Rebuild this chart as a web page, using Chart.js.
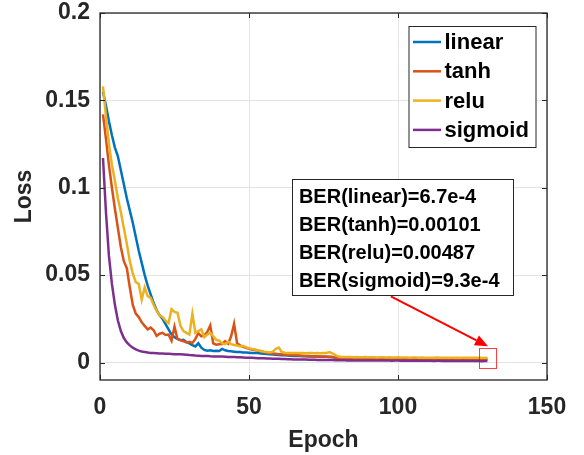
<!DOCTYPE html>
<html>
<head>
<meta charset="utf-8">
<script src="https://cdn.jsdelivr.net/npm/chart.js@4.4.1/dist/chart.umd.min.js"></script>
<style>
  html, body { margin: 0; padding: 0; background: #fff; }
</style>
</head>
<body>
<canvas id="lossChart" width="584" height="455"></canvas>
<script>
const seriesNames = ['linear', 'tanh', 'relu', 'sigmoid'];
const seriesColors = ['#0072BD', '#D95319', '#EDB120', '#7E2F8E'];
const epochs = Array.from({ length: 130 }, (_, i) => i + 1);

const lossLinear = [
  0.155, 0.147, 0.138, 0.130, 0.123, 0.118, 0.110, 0.102, 0.094, 0.087,
  0.080, 0.072, 0.064, 0.057, 0.050, 0.044, 0.039, 0.034, 0.030, 0.027,
  0.025, 0.022, 0.019, 0.016, 0.0145, 0.0135, 0.0128, 0.0130, 0.0118, 0.0110,
  0.0100, 0.0092, 0.0110, 0.0085, 0.0072, 0.0068, 0.0070, 0.0066, 0.0067, 0.0066,
  0.0078, 0.0070, 0.0066, 0.0064, 0.0062, 0.0060, 0.0060, 0.0058, 0.0057, 0.0056,
  0.0055, 0.0055, 0.0054, 0.0052, 0.0050, 0.0049, 0.0048, 0.0046, 0.0045, 0.0043,
  0.0042, 0.0041, 0.0040, 0.0039, 0.0038, 0.0038, 0.0037, 0.0036, 0.0036, 0.0035,
  0.0035, 0.0034, 0.0034, 0.0033, 0.0033, 0.0033, 0.0032, 0.0031, 0.0027, 0.0024,
  0.0023, 0.0023, 0.0022, 0.0023, 0.0022, 0.0022, 0.0022, 0.0021, 0.0022, 0.0021,
  0.0021, 0.0021, 0.0020, 0.0021, 0.0020, 0.0020, 0.0021, 0.0020, 0.0020, 0.0020,
  0.0020, 0.0019, 0.0020, 0.0019, 0.0020, 0.0019, 0.0019, 0.0020, 0.0019, 0.0019,
  0.0019, 0.0019, 0.0019, 0.0018, 0.0019, 0.0019, 0.0018, 0.0019, 0.0018, 0.0018,
  0.0018, 0.0019, 0.0018, 0.0018, 0.0018, 0.0018, 0.0017, 0.0018, 0.0018, 0.0018
];
const lossTanh = [
  0.142, 0.128, 0.113, 0.100, 0.088, 0.077, 0.066, 0.058, 0.054, 0.043,
  0.033, 0.028, 0.026, 0.023, 0.021, 0.019, 0.020, 0.0185, 0.0152, 0.0165,
  0.0170, 0.0158, 0.0160, 0.0125, 0.0205, 0.0135, 0.0128, 0.0122, 0.0115, 0.0118,
  0.0112, 0.0135, 0.0168, 0.0150, 0.0155, 0.0175, 0.0212, 0.0110, 0.0102, 0.0104,
  0.0106, 0.0122, 0.0108, 0.0150, 0.0222, 0.0110, 0.0098, 0.0090, 0.0084, 0.0078,
  0.0075, 0.0072, 0.0068, 0.0064, 0.0060, 0.0057, 0.0054, 0.0052, 0.0050, 0.0048,
  0.0047, 0.0046, 0.0045, 0.0043, 0.0042, 0.0041, 0.0040, 0.0039, 0.0038, 0.0037,
  0.0036, 0.0035, 0.0035, 0.0034, 0.0034, 0.0033, 0.0033, 0.0032, 0.0028, 0.0025,
  0.0024, 0.0024, 0.0023, 0.0024, 0.0023, 0.0023, 0.0023, 0.0022, 0.0023, 0.0022,
  0.0022, 0.0022, 0.0022, 0.0021, 0.0022, 0.0021, 0.0021, 0.0022, 0.0021, 0.0021,
  0.0021, 0.0021, 0.0020, 0.0021, 0.0021, 0.0020, 0.0021, 0.0020, 0.0020, 0.0021,
  0.0020, 0.0020, 0.0020, 0.0020, 0.0021, 0.0020, 0.0020, 0.0020, 0.0019, 0.0020,
  0.0020, 0.0020, 0.0019, 0.0020, 0.0020, 0.0019, 0.0020, 0.0019, 0.0020, 0.0020
];
const lossRelu = [
  0.158, 0.141, 0.125, 0.113, 0.104, 0.094, 0.086, 0.077, 0.068, 0.058,
  0.051, 0.046, 0.045, 0.036, 0.043, 0.038, 0.037, 0.033, 0.0295, 0.027,
  0.026, 0.024, 0.0225, 0.0305, 0.029, 0.0285, 0.021, 0.018, 0.017, 0.016,
  0.0278, 0.017, 0.018, 0.019, 0.0145, 0.016, 0.017, 0.015, 0.013, 0.0125,
  0.011, 0.0105, 0.012, 0.0105, 0.0100, 0.0098, 0.0092, 0.0095, 0.0088, 0.0082,
  0.0078, 0.0075, 0.0070, 0.0066, 0.0062, 0.0060, 0.0058, 0.0062, 0.0078, 0.0086,
  0.0060, 0.0056, 0.0055, 0.0054, 0.0055, 0.0054, 0.0055, 0.0054, 0.0053, 0.0054,
  0.0054, 0.0053, 0.0054, 0.0053, 0.0054, 0.0055, 0.0060, 0.0052, 0.0042, 0.0034,
  0.0032, 0.0031, 0.0031, 0.0031, 0.0030, 0.0031, 0.0030, 0.0030, 0.0031, 0.0030,
  0.0030, 0.0030, 0.0029, 0.0030, 0.0030, 0.0029, 0.0030, 0.0029, 0.0029, 0.0030,
  0.0029, 0.0029, 0.0029, 0.0028, 0.0029, 0.0029, 0.0028, 0.0029, 0.0028, 0.0028,
  0.0028, 0.0028, 0.0029, 0.0028, 0.0028, 0.0028, 0.0027, 0.0028, 0.0028, 0.0027,
  0.0028, 0.0027, 0.0027, 0.0028, 0.0027, 0.0027, 0.0027, 0.0027, 0.0026, 0.0027
];
const lossSigmoid = [
  0.117, 0.086, 0.061, 0.045, 0.033, 0.024, 0.018, 0.014, 0.0115, 0.0098,
  0.0085, 0.0075, 0.0068, 0.0063, 0.0060, 0.0057, 0.0055, 0.0054, 0.0053, 0.0052,
  0.0051, 0.0050, 0.0050, 0.0049, 0.0048, 0.0048, 0.0047, 0.0046, 0.0045, 0.0043,
  0.0042, 0.0040, 0.0039, 0.0038, 0.0037, 0.0038, 0.0036, 0.0035, 0.0035, 0.0034,
  0.0034, 0.0033, 0.0032, 0.0032, 0.0031, 0.0030, 0.0030, 0.0029, 0.0028, 0.0028,
  0.0027, 0.0026, 0.0025, 0.0025, 0.0024, 0.0023, 0.0023, 0.0022, 0.0021, 0.0021,
  0.0020, 0.0020, 0.0019, 0.0019, 0.0018, 0.0018, 0.0017, 0.0017, 0.0017, 0.0016,
  0.0016, 0.0016, 0.0015, 0.0015, 0.0015, 0.0014, 0.0014, 0.0014, 0.0013, 0.0013,
  0.0013, 0.0013, 0.0012, 0.0013, 0.0012, 0.0012, 0.0012, 0.0012, 0.0011, 0.0012,
  0.0011, 0.0012, 0.0011, 0.0011, 0.0011, 0.0011, 0.0011, 0.0010, 0.0011, 0.0011,
  0.0010, 0.0011, 0.0010, 0.0010, 0.0010, 0.0011, 0.0010, 0.0010, 0.0010, 0.0010,
  0.0010, 0.0009, 0.0010, 0.0010, 0.0009, 0.0010, 0.0009, 0.0010, 0.0009, 0.0009,
  0.0009, 0.0010, 0.0009, 0.0009, 0.0009, 0.0009, 0.0009, 0.0008, 0.0009, 0.0009
];

const xTicks = [0, 50, 100, 150];
const yTicks = [0, 0.05, 0.1, 0.15, 0.2];
const yTickLabels = ['0', '0.05', '0.1', '0.15', '0.2'];
const berLines = ['BER(linear)=6.7e-4', 'BER(tanh)=0.00101', 'BER(relu)=0.00487', 'BER(sigmoid)=9.3e-4'];

// annotation placement, in data units (epoch, loss)
const noteBox = { x0: 64.4, x1: 138.6, y0: 0.1049, y1: 0.0385 };
const arrowFrom = { x: 97.6, y: 0.0379 };
const arrowTo = { x: 130.2, y: 0.0093 };
const zoomRect = { x0: 127.2, x1: 132.9, y0: 0.0082, y1: -0.0033 };

const FONT = "'Liberation Sans', Arial, sans-serif";
const allLosses = [lossLinear, lossTanh, lossRelu, lossSigmoid];

const datasets = seriesNames.map((name, i) => ({
  label: name,
  data: epochs.map((e, k) => ({ x: e, y: allLosses[i][k] })),
  borderColor: seriesColors[i],
  borderWidth: 2.5,
  pointRadius: 0,
  fill: false,
  tension: 0,
  order: 4 - i
}));

const matlabDecor = {
  id: 'matlabDecor',
  afterDatasetsDraw(chart) {
    const { ctx, chartArea: a, scales } = chart;
    const xs = scales.x, ys = scales.y;
    ctx.save();

    // box + inward ticks
    ctx.strokeStyle = '#262626';
    ctx.lineWidth = 1.3;
    ctx.strokeRect(a.left, a.top, a.right - a.left, a.bottom - a.top);
    ctx.lineWidth = 1;
    ctx.beginPath();
    xTicks.forEach(v => {
      const px = Math.round(xs.getPixelForValue(v)) + 0.5;
      ctx.moveTo(px, a.bottom); ctx.lineTo(px, a.bottom - 5);
      ctx.moveTo(px, a.top); ctx.lineTo(px, a.top + 5);
    });
    yTicks.forEach(v => {
      const py = Math.round(ys.getPixelForValue(v)) + 0.5;
      ctx.moveTo(a.left, py); ctx.lineTo(a.left + 5, py);
      ctx.moveTo(a.right, py); ctx.lineTo(a.right - 5, py);
    });
    ctx.stroke();

    // legend
    const lw = 127, lh = 121;
    const lx = a.right - 11.5 - lw, ly = a.top + 13;
    ctx.fillStyle = '#fff';
    ctx.fillRect(lx, ly, lw, lh);
    ctx.strokeStyle = '#262626';
    ctx.lineWidth = 1;
    ctx.strokeRect(lx + 0.5, ly + 0.5, lw, lh);
    ctx.font = 'bold 22px ' + FONT;
    ctx.textBaseline = 'middle';
    ctx.textAlign = 'left';
    chart.data.datasets.forEach((ds, i) => {
      const cy = ly + 16 + i * 29.3;
      ctx.strokeStyle = ds.borderColor;
      ctx.lineWidth = 2.5;
      ctx.beginPath();
      ctx.moveTo(lx + 4.5, cy); ctx.lineTo(lx + 32.5, cy);
      ctx.stroke();
      ctx.fillStyle = '#000';
      ctx.fillText(ds.label, lx + 36, cy + 1);
    });

    // BER note box
    const bx0 = xs.getPixelForValue(noteBox.x0), bx1 = xs.getPixelForValue(noteBox.x1);
    const by0 = ys.getPixelForValue(noteBox.y0), by1 = ys.getPixelForValue(noteBox.y1);
    ctx.fillStyle = '#fff';
    ctx.fillRect(bx0, by0, bx1 - bx0, by1 - by0);
    ctx.strokeStyle = '#262626';
    ctx.lineWidth = 1;
    ctx.strokeRect(Math.round(bx0) + 0.5, Math.round(by0) + 0.5, Math.round(bx1 - bx0), Math.round(by1 - by0));
    ctx.font = 'bold 20px ' + FONT;
    ctx.fillStyle = '#000';
    berLines.forEach((t, i) => {
      ctx.fillText(t, bx0 + 7, by0 + 18.5 + i * 27.8);
    });

    // arrow
    const ax0 = xs.getPixelForValue(arrowFrom.x), ay0 = ys.getPixelForValue(arrowFrom.y);
    const ax1 = xs.getPixelForValue(arrowTo.x), ay1 = ys.getPixelForValue(arrowTo.y);
    const ang = Math.atan2(ay1 - ay0, ax1 - ax0);
    const hl = 13, hw = 5.5;
    ctx.strokeStyle = '#ff0000';
    ctx.fillStyle = '#ff0000';
    ctx.lineWidth = 2;
    ctx.beginPath();
    ctx.moveTo(ax0, ay0);
    ctx.lineTo(ax1 - hl * Math.cos(ang), ay1 - hl * Math.sin(ang));
    ctx.stroke();
    ctx.beginPath();
    ctx.moveTo(ax1, ay1);
    ctx.lineTo(ax1 - hl * Math.cos(ang) + hw * Math.sin(ang), ay1 - hl * Math.sin(ang) - hw * Math.cos(ang));
    ctx.lineTo(ax1 - hl * Math.cos(ang) - hw * Math.sin(ang), ay1 - hl * Math.sin(ang) + hw * Math.cos(ang));
    ctx.closePath();
    ctx.fill();

    // zoom rectangle
    const rx0 = xs.getPixelForValue(zoomRect.x0), rx1 = xs.getPixelForValue(zoomRect.x1);
    const ry0 = ys.getPixelForValue(zoomRect.y0), ry1 = ys.getPixelForValue(zoomRect.y1);
    ctx.strokeStyle = 'rgba(255,0,0,0.75)';
    ctx.lineWidth = 1;
    ctx.strokeRect(Math.round(rx0) + 0.5, Math.round(ry0) + 0.5, Math.round(rx1 - rx0), Math.round(ry1 - ry0));

    ctx.restore();
  }
};

const tickFont = { family: FONT, size: 23, weight: 'bold', lineHeight: 1 };
const titleFont = { family: FONT, size: 23, weight: 'bold' };

new Chart(document.getElementById('lossChart'), {
  type: 'line',
  data: { datasets: datasets },
  options: {
    responsive: false,
    animation: false,
    layout: { padding: { left: 0, right: 37, top: 13, bottom: 0 } },
    plugins: {
      legend: { display: false },
      tooltip: { enabled: false }
    },
    scales: {
      x: {
        type: 'linear',
        min: 0,
        max: 150,
        afterBuildTicks: s => { s.ticks = xTicks.map(v => ({ value: v })); },
        afterFit: s => { s.height = 75; },
        grid: { color: '#e3e3e3', drawTicks: false },
        border: { display: false },
        ticks: { padding: 16, color: '#262626', font: tickFont, maxRotation: 0, autoSkip: false },
        title: { display: true, text: 'Epoch', color: '#262626', font: titleFont, padding: { top: 0, bottom: 1 } }
      },
      y: {
        type: 'linear',
        min: -0.01,
        max: 0.2,
        afterBuildTicks: s => { s.ticks = yTicks.map(v => ({ value: v })); },
        afterFit: s => { s.width = 100; },
        // invisible outer ticks just push the labels 10px away from the box
        grid: { color: '#e3e3e3', drawTicks: true, tickLength: 10, tickColor: 'rgba(0,0,0,0)' },
        border: { display: false },
        ticks: {
          padding: 0,
          color: '#262626',
          font: tickFont,
          callback: (v, i) => yTickLabels[i]
        },
        title: { display: true, text: 'Loss', color: '#262626', font: titleFont, padding: { top: 11, bottom: 0 } }
      }
    }
  },
  plugins: [matlabDecor]
});
</script>
</body>
</html>
